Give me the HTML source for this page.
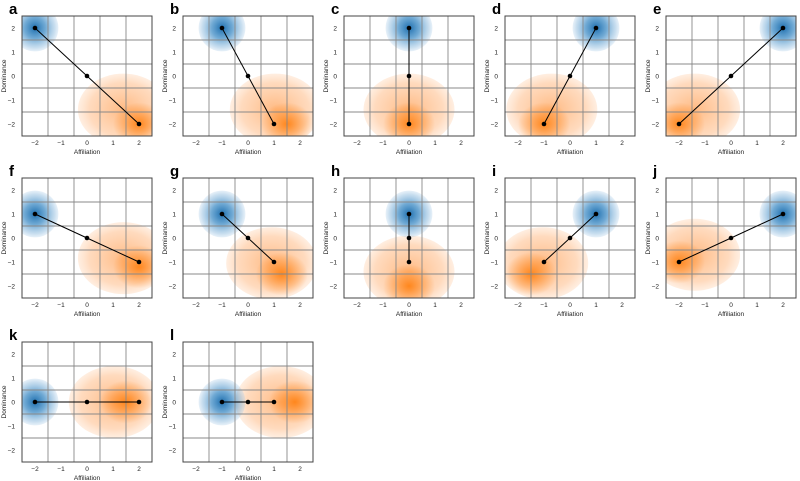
<!DOCTYPE html>
<html><head><meta charset="utf-8"><style>
html,body{margin:0;padding:0;background:#fff}
svg{display:block;font-family:"Liberation Sans","DejaVu Sans",sans-serif}
</style></head><body>
<svg id="fig" width="800" height="481" viewBox="0 0 800 481">
<defs>
<radialGradient id="gBlue">
<stop offset="0" stop-color="#1f6fae" stop-opacity="1"/>
<stop offset="0.45" stop-color="#3385c2" stop-opacity="0.7"/>
<stop offset="0.85" stop-color="#78aed8" stop-opacity="0.4"/>
<stop offset="1" stop-color="#a8cbe8" stop-opacity="0.28"/>
</radialGradient>
<radialGradient id="gOrBlob">
<stop offset="0" stop-color="#ff8c30" stop-opacity="0.6"/>
<stop offset="0.75" stop-color="#ffa864" stop-opacity="0.42"/>
<stop offset="1" stop-color="#ffc89c" stop-opacity="0.3"/>
</radialGradient>
<radialGradient id="gOrPeak">
<stop offset="0" stop-color="#ff7f0e" stop-opacity="0.9"/>
<stop offset="1" stop-color="#ff7f0e" stop-opacity="0"/>
</radialGradient>
</defs>
</svg>
<script>
const panelLabels = ['a','b','c','d','e','f','g','h','i','j','k','l'];
const blueX = [-2,-1,0,1,2,-2,-1,0,1,2,-2,-1];
const blueY = [2,2,2,2,2,1,1,1,1,1,0,0];
const orangeX = [2,1,0,-1,-2,2,1,0,-1,-2,2,1];
const orangeY = [-2,-2,-2,-2,-2,-1,-1,-1,-1,-1,0,0];
const peakX = [2,1.5,0,-1,-2,2,1.3,0,-1.5,-2,1.5,1.8];
const peakY = [-2,-2,-2,-2,-2,-1.2,-1.5,-2,-1.5,-1,0,0];
const tickVals = [-2,-1,0,1,2];
const gridVals = [-1.5,-0.5,0.5,1.5];

const NS='http://www.w3.org/2000/svg';
const svg=document.getElementById('fig');
function mk(tag,attrs,parent){const e=document.createElementNS(NS,tag);for(const k in attrs)e.setAttribute(k,attrs[k]);(parent||svg).appendChild(e);return e;}
const colLeft=[22,183,344,505,666], rowTop=[16,178,342], W=130, H=120;

panelLabels.forEach((lab,i)=>{
  const L=colLeft[i%5], T=rowTop[Math.floor(i/5)];
  const sx=v=>L+(v+2.5)/5*W, sy=v=>T+(2.5-v)/5*H;
  const ux=W/5, uy=H/5;
  const g=mk('g',{});
  
  
  const cp=mk('clipPath',{id:'cp'+i},g); mk('rect',{x:L,y:T,width:W,height:H},cp);
  const pl=mk('g',{'clip-path':'url(#cp'+i+')'},g);
  const mx=(blueX[i]+orangeX[i])/2, my=(blueY[i]+orangeY[i])/2;
  const bx=peakX[i]+(mx-peakX[i])*0.3, by=peakY[i]+(my-peakY[i])*0.3;
  const ob=mk('ellipse',{cx:sx(bx),cy:sy(by),rx:1.75*ux,ry:1.5*uy,fill:'url(#gOrBlob)'},pl);
  
  
  const op=mk('ellipse',{cx:sx(peakX[i]),cy:sy(peakY[i]),rx:1.0*ux,ry:0.9*uy,fill:'url(#gOrPeak)'},pl);
  
  
  const bc=mk('circle',{cx:sx(blueX[i]),cy:sy(blueY[i]),r:0.9*ux,fill:'url(#gBlue)'},pl);
  
  
  gridVals.forEach(v=>{
    mk('line',{x1:sx(v),x2:sx(v),y1:T,y2:T+H,stroke:'#888','stroke-width':0.9},pl);
    mk('line',{x1:L,x2:L+W,y1:sy(v),y2:sy(v),stroke:'#888','stroke-width':0.9},pl);
  });
  const ln=mk('polyline',{points:[sx(blueX[i]),sy(blueY[i]),sx(mx),sy(my),sx(orangeX[i]),sy(orangeY[i])].join(' '),fill:'none',stroke:'#000','stroke-width':1},g);
  
  
  [[blueX[i],blueY[i]],[mx,my],[orangeX[i],orangeY[i]]].forEach(p=>{
    const c=mk('circle',{cx:sx(p[0]),cy:sy(p[1]),r:2.3,fill:'#000'},g);
    
    
  });
  const fr=mk('rect',{x:L,y:T,width:W,height:H,fill:'none',stroke:'#444','stroke-width':1},g);
  
  
  tickVals.forEach(v=>{
    const tx=mk('text',{x:sx(v),y:T+H+9,'font-size':6.5,'text-anchor':'middle',fill:'#222'},g);
    tx.textContent=v<0?'\u2212'+(-v):String(v);
    
    
    const ty=mk('text',{x:L-7,y:sy(v)+2.3,'font-size':6.5,'text-anchor':'end',fill:'#222'},g);
    ty.textContent=v<0?'\u2212'+(-v):String(v);
    
    
  });
  const xt=mk('text',{x:L+W/2,y:T+H+18,'font-size':6.5,'text-anchor':'middle',fill:'#222'},g);
  xt.textContent='Affiliation';
  
  
  const yt=mk('text',{x:0,y:0,'font-size':6.5,'text-anchor':'middle',fill:'#222',transform:'translate('+(L-16)+','+(T+H/2)+') rotate(-90)'},g);
  yt.textContent='Dominance';
  
  
  const pt=mk('text',{x:L-13,y:T-2,'font-size':15,'font-weight':'bold',fill:'#000'},g);
  pt.textContent=lab;
  
  
});
</script>
</body></html>
